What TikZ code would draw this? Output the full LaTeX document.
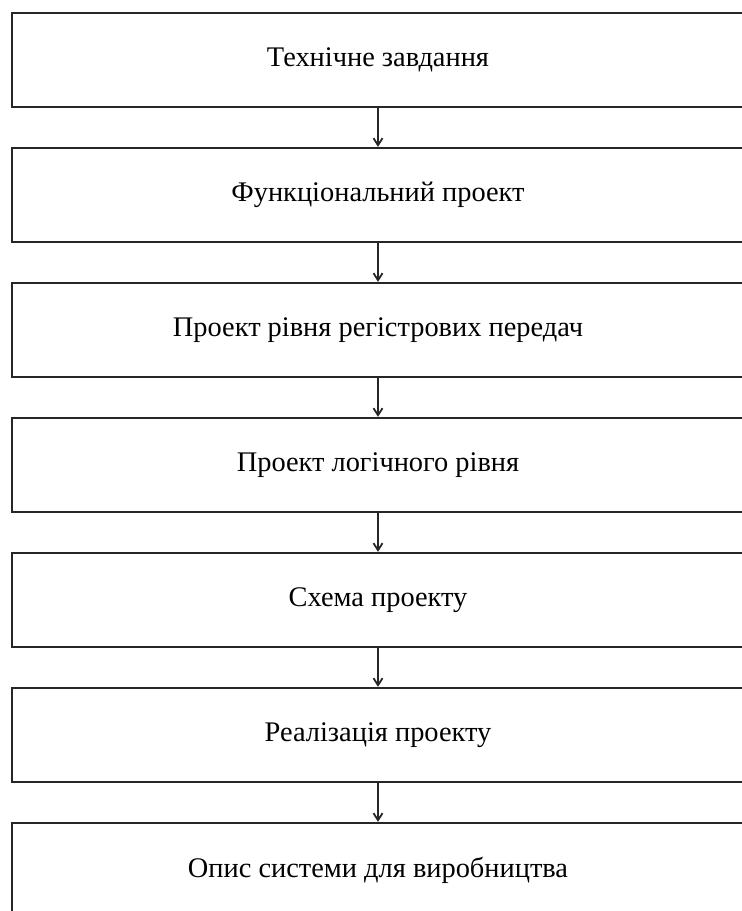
\documentclass[tikz,border=0pt]{standalone}
\usepackage{fontspec}
\setmainfont{Liberation Serif}
\usetikzlibrary{arrows.meta}

\begin{document}
\begin{tikzpicture}[x=0.5pt, y=-0.5pt]
        % Stage style definitions
        \tikzset{
            stage/.style={draw=black!85, line width=1.15pt, rectangle,
                minimum width=366pt, minimum height=47pt, inner sep=0pt,
                font=\fontsize{14.2}{17}\selectfont},
            flow/.style={draw=black!85, line width=0.7pt,
                -{Straight Barb[length=3.5pt, width=4.5pt, line width=0.9pt]}}
        }
        \useasboundingbox (0,0) rectangle (741,911);

        % ==========================================
        % STAGES (top to bottom)
        % ==========================================
        \node[stage] (tz)    at (378, 60)  {Технічне завдання};
        \node[stage] (func)  at (378, 195) {Функціональний проект};
        \node[stage] (rtl)   at (378, 330) {Проект рівня регістрових передач};
        \node[stage] (logic) at (378, 465) {Проект логічного рівня};
        \node[stage] (schem) at (378, 600) {Схема проекту};
        \node[stage] (impl)  at (378, 735) {Реалізація проекту};
        \node[stage] (prod)  at (378, 870) {Опис системи для виробництва};

        % Connectors
        \draw[flow] (tz)    -- (func);
        \draw[flow] (func)  -- (rtl);
        \draw[flow] (rtl)   -- (logic);
        \draw[flow] (logic) -- (schem);
        \draw[flow] (schem) -- (impl);
        \draw[flow] (impl)  -- (prod);
    \end{tikzpicture}
\end{document}
